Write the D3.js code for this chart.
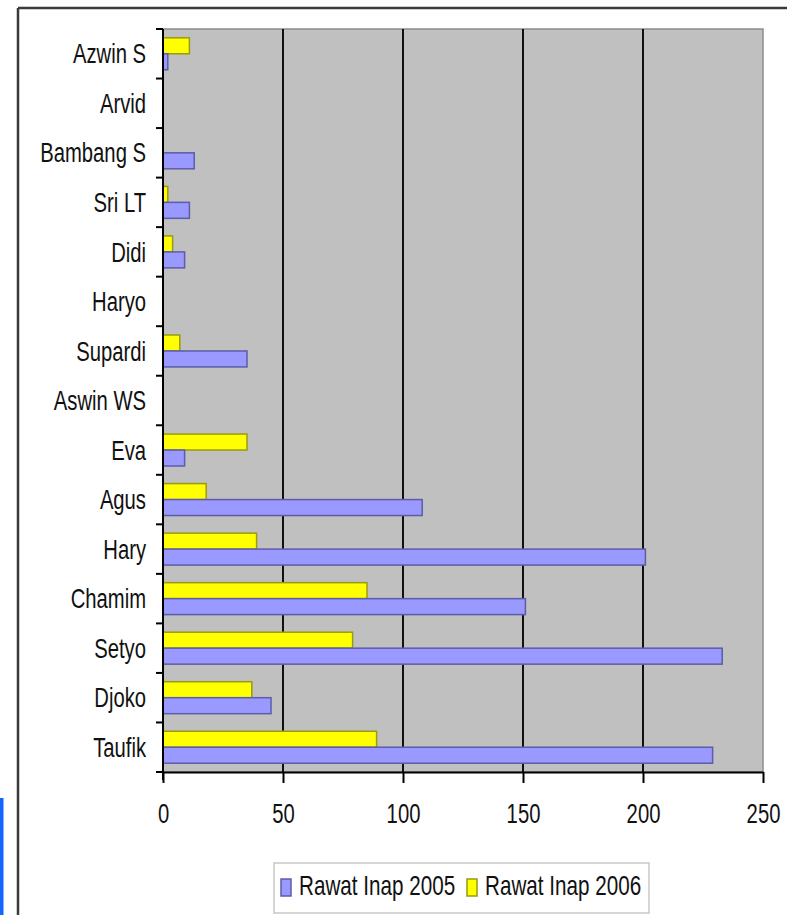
<!DOCTYPE html>
<html>
<head>
<meta charset="utf-8">
<script src="https://cdn.jsdelivr.net/npm/d3@7"></script>
<style>
  html, body { margin: 0; padding: 0; background: #fff; }
  svg { display: block; }
  text { font-family: "Liberation Sans", Arial, sans-serif; fill: #111; }
</style>
</head>
<body>
<svg id="chart" width="787" height="915"></svg>
<script>
// Patients per doctor, inpatient care (Rawat Inap), 2005 vs 2006
const doctors = ["Azwin S", "Arvid", "Bambang S", "Sri LT", "Didi", "Haryo", "Supardi",
  "Aswin WS", "Eva", "Agus", "Hary", "Chamim", "Setyo", "Djoko", "Taufik"];
const inap2005 = [2, 0, 13, 11, 9, 0, 35, 0, 9, 108, 201, 151, 233, 45, 229];
const inap2006 = [11, 0, 0, 2, 4, 0, 7, 0, 35, 18, 39, 85, 79, 37, 89];
const xTicks = [0, 50, 100, 150, 200, 250];
const seriesNames = ["Rawat Inap 2005", "Rawat Inap 2006"];
const seriesColors = ["#9999ff", "#ffff00"];
const seriesStrokes = ["#5c5ca8", "#9a9a10"];

const narrow = "scale(0.81,1.1)";   // condensed, tall face, like Arial Narrow
const svg = d3.select("#chart");

// outer frame (top and left edges visible)
svg.append("line").attr("x1", 18).attr("x2", 787).attr("y1", 8).attr("y2", 8)
  .attr("stroke", "#3a3a3a").attr("stroke-width", 2.5);
svg.append("line").attr("x1", 18).attr("x2", 18).attr("y1", 8).attr("y2", 915)
  .attr("stroke", "#3a3a3a").attr("stroke-width", 2.5);
// blue marker strip at lower left
svg.append("rect").attr("x", 0).attr("y", 798).attr("width", 3.5).attr("height", 117)
  .attr("fill", "#1464ff");

const plot = { left: 163, top: 29, right: 763, bottom: 772 };

const x = d3.scaleLinear().domain([0, 250]).range([plot.left, plot.right]);
const y = d3.scaleBand().domain(doctors).range([plot.top, plot.bottom]).padding(0);
const sub = d3.scaleBand().domain(["2006", "2005"]).range([0, y.bandwidth()])
  .paddingInner(0).paddingOuter(0.55);

// plot background
svg.append("rect")
  .attr("x", plot.left).attr("y", plot.top)
  .attr("width", plot.right - plot.left).attr("height", plot.bottom - plot.top)
  .attr("fill", "#c0c0c0").attr("stroke", "#8c8c8c").attr("stroke-width", 1.5);

// vertical gridlines
svg.append("g").selectAll("line")
  .data(xTicks.filter(t => t > 0 && t < 250))
  .join("line")
  .attr("x1", d => x(d)).attr("x2", d => x(d))
  .attr("y1", plot.top).attr("y2", plot.bottom)
  .attr("stroke", "#111").attr("stroke-width", 2);

// bars
const rows = doctors.map((d, i) => ({ name: d, v2005: inap2005[i], v2006: inap2006[i] }));
const barG = svg.append("g");
rows.forEach(r => {
  [["2006", r.v2006, 1], ["2005", r.v2005, 0]].forEach(([key, v, s]) => {
    if (v <= 0) return;
    barG.append("rect")
      .attr("x", x(0))
      .attr("y", y(r.name) + sub(key))
      .attr("width", x(v) - x(0))
      .attr("height", sub.bandwidth())
      .attr("fill", seriesColors[s])
      .attr("stroke", seriesStrokes[s])
      .attr("stroke-width", 1.5);
  });
});

// bottom axis
const xAxis = svg.append("g")
  .attr("transform", `translate(0,${plot.bottom})`)
  .call(d3.axisBottom(x).tickValues(xTicks).tickSize(11).tickSizeOuter(0));
xAxis.select(".domain").attr("stroke", "#000").attr("stroke-width", 2);
xAxis.selectAll(".tick line").attr("stroke", "#000").attr("stroke-width", 2);
xAxis.selectAll(".tick text")
  .attr("y", 46).attr("dy", 0)
  .attr("transform", narrow)
  .style("font-size", "25px")
  .style("font-family", "'Liberation Sans', Arial, sans-serif")
  .attr("fill", "#111");

// left axis: line, ticks at category boundaries, names at band centres
const yAxis = svg.append("g").attr("transform", `translate(${plot.left},0)`);
yAxis.append("line").attr("x1", 0).attr("x2", 0)
  .attr("y1", plot.top).attr("y2", plot.bottom + 8)
  .attr("stroke", "#000").attr("stroke-width", 2);
const bounds = doctors.map(d => y(d)).concat([plot.bottom]);
yAxis.selectAll("line.bound").data(bounds).join("line")
  .attr("class", "bound")
  .attr("x1", -7).attr("x2", 0)
  .attr("y1", d => d).attr("y2", d => d)
  .attr("stroke", "#000").attr("stroke-width", 2);
yAxis.selectAll("g.lbl").data(doctors).join("g")
  .attr("class", "lbl")
  .attr("transform", d => `translate(-17,${y(d) + y.bandwidth() / 2}) ${narrow}`)
  .append("text")
  .attr("text-anchor", "end")
  .attr("dy", "0.35em")
  .style("font-size", "25px")
  .text(d => d);

// legend
const legend = svg.append("g");
legend.append("rect")
  .attr("x", 274).attr("y", 863).attr("width", 375).attr("height", 50)
  .attr("fill", "#fff").attr("stroke", "#c8c8c8").attr("stroke-width", 1.5);
const legendItems = [
  { sw: 281, tx: 299, idx: 0 },
  { sw: 467, tx: 485, idx: 1 }
];
legendItems.forEach(it => {
  legend.append("rect")
    .attr("x", it.sw).attr("y", 879).attr("width", 10).attr("height", 17)
    .attr("fill", seriesColors[it.idx]).attr("stroke", seriesStrokes[it.idx]).attr("stroke-width", 1.5);
  legend.append("g")
    .attr("transform", `translate(${it.tx},895) ${narrow}`)
    .append("text")
    .style("font-size", "25.5px")
    .text(seriesNames[it.idx]);
});
</script>
</body>
</html>
